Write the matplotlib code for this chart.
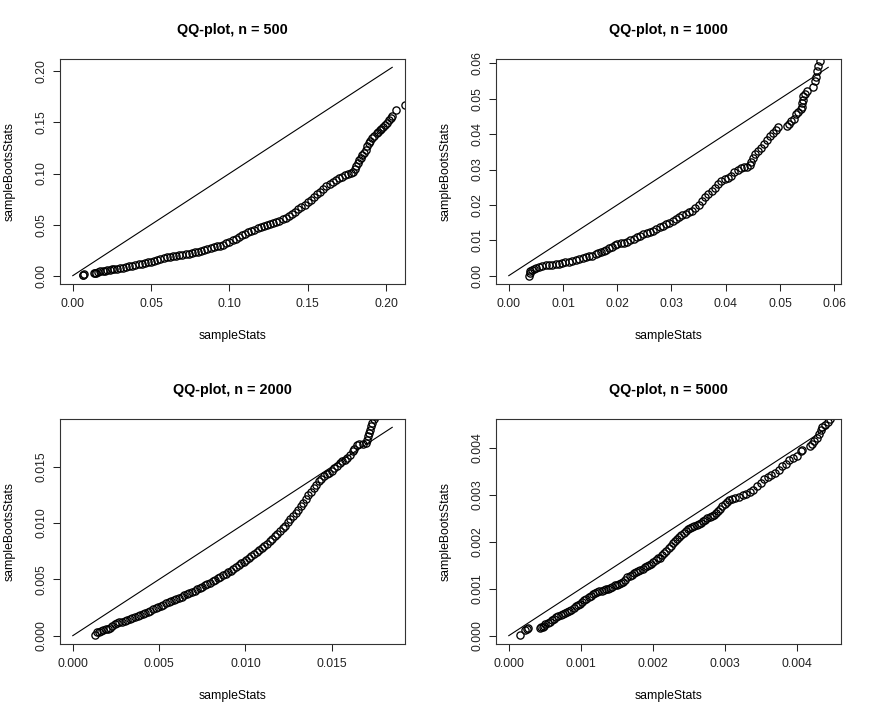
import matplotlib
matplotlib.use("Agg")
import matplotlib.pyplot as plt
from matplotlib.ticker import FormatStrFormatter

plt.rcParams['font.family'] = ['Liberation Sans', 'DejaVu Sans']

# QQ points (sampleStats, sampleBootsStats)
qq500 = [
    (0.0064, 0.0003), (0.0067, 0.0008), (0.0069, 0.0012), (0.0134, 0.0025), (0.0142, 0.0028),
    (0.0150, 0.0031), (0.0160, 0.0036), (0.0175, 0.0041), (0.0190, 0.0045), (0.0205, 0.0050),
    (0.0220, 0.0054), (0.0235, 0.0058), (0.0250, 0.0062), (0.0265, 0.0066), (0.0280, 0.0069),
    (0.030, 0.0074), (0.032, 0.0078), (0.034, 0.0083), (0.036, 0.0090), (0.038, 0.0097),
    (0.040, 0.0104), (0.042, 0.0110), (0.044, 0.0116), (0.046, 0.0122), (0.048, 0.0129),
    (0.050, 0.0137), (0.052, 0.0146), (0.054, 0.0155), (0.056, 0.0165), (0.058, 0.0174),
    (0.060, 0.0181), (0.062, 0.0187), (0.064, 0.0192), (0.066, 0.0196), (0.068, 0.0200),
    (0.070, 0.0205), (0.072, 0.0210), (0.074, 0.0215), (0.076, 0.0220), (0.078, 0.0227),
    (0.080, 0.0235), (0.082, 0.0245), (0.084, 0.0255), (0.086, 0.0264), (0.088, 0.0272),
    (0.090, 0.0280), (0.092, 0.0287), (0.094, 0.0295), (0.096, 0.0305), (0.098, 0.0318),
    (0.100, 0.0333), (0.102, 0.0348), (0.104, 0.0362), (0.106, 0.0378), (0.108, 0.0394),
    (0.110, 0.0410), (0.112, 0.0424), (0.114, 0.0438), (0.116, 0.0452), (0.118, 0.0464),
    (0.120, 0.0475), (0.122, 0.0484), (0.124, 0.0492), (0.126, 0.0502), (0.128, 0.0514),
    (0.130, 0.0526), (0.132, 0.0538), (0.134, 0.0551), (0.136, 0.0566), (0.138, 0.0584),
    (0.140, 0.0605), (0.142, 0.0626), (0.144, 0.0648), (0.146, 0.0672), (0.148, 0.0696),
    (0.150, 0.0720), (0.152, 0.0745), (0.154, 0.0772), (0.156, 0.0798), (0.158, 0.0824),
    (0.160, 0.0850), (0.162, 0.0874), (0.164, 0.0898), (0.166, 0.0920), (0.168, 0.0938),
    (0.170, 0.0955), (0.172, 0.0970), (0.174, 0.0985), (0.176, 0.0998), (0.1775, 0.1010),
    (0.179, 0.1020), (0.180, 0.1040), (0.181, 0.1070), (0.182, 0.1100), (0.183, 0.1130),
    (0.184, 0.1155), (0.185, 0.1180), (0.186, 0.1205), (0.187, 0.1235), (0.188, 0.1265),
    (0.189, 0.1295), (0.190, 0.1320), (0.191, 0.1345), (0.1925, 0.1370), (0.194, 0.1395),
    (0.195, 0.1410), (0.196, 0.1425), (0.197, 0.1440), (0.198, 0.1455), (0.1995, 0.1478),
    (0.2005, 0.1495), (0.2017, 0.1520), (0.203, 0.1545), (0.204, 0.1560), (0.2066, 0.1620),
    (0.212, 0.1670),
]

qq1000 = [
    (0.0038, 0.0000), (0.0039, 0.0008), (0.0040, 0.0012), (0.0043, 0.0016), (0.0046, 0.0020),
    (0.0050, 0.0023), (0.0055, 0.0025), (0.0062, 0.0027), (0.0068, 0.0029), (0.0074, 0.0030),
    (0.0080, 0.0031), (0.0087, 0.0032), (0.0093, 0.0034), (0.0098, 0.0036), (0.0104, 0.0039),
    (0.0111, 0.0040), (0.0117, 0.0042), (0.0124, 0.0044), (0.0130, 0.0046), (0.0136, 0.0050),
    (0.0142, 0.0053), (0.0148, 0.0055), (0.0154, 0.0057), (0.0160, 0.0060), (0.0165, 0.0063),
    (0.0170, 0.0066), (0.0175, 0.0070), (0.0180, 0.0073), (0.0185, 0.0077), (0.0190, 0.0081),
    (0.0195, 0.0086), (0.0200, 0.0089), (0.0206, 0.0091), (0.0212, 0.0093), (0.0218, 0.0096),
    (0.0224, 0.0100), (0.0230, 0.0104), (0.0236, 0.0108), (0.0242, 0.0113), (0.0248, 0.0118),
    (0.0254, 0.0121), (0.0260, 0.0124), (0.0266, 0.0127), (0.0272, 0.0132), (0.0278, 0.0137),
    (0.0284, 0.0141), (0.0290, 0.0145), (0.0296, 0.0150), (0.0302, 0.0155), (0.0308, 0.0160),
    (0.0314, 0.0166), (0.0320, 0.0171), (0.0326, 0.0175), (0.0332, 0.0179), (0.0338, 0.0183),
    (0.0344, 0.0190), (0.0350, 0.0200), (0.0356, 0.0212), (0.0362, 0.0222), (0.0368, 0.0230),
    (0.0374, 0.0238), (0.0380, 0.0248), (0.0386, 0.0259), (0.0392, 0.0267), (0.0398, 0.0272),
    (0.0404, 0.0277), (0.0410, 0.0282), (0.0416, 0.0292), (0.0422, 0.0299), (0.0428, 0.0304),
    (0.0434, 0.0307), (0.0440, 0.0308), (0.0444, 0.0312), (0.0447, 0.0322), (0.0450, 0.0334),
    (0.0454, 0.0343), (0.0459, 0.0352), (0.0465, 0.0362), (0.0471, 0.0373), (0.0477, 0.0384),
    (0.0482, 0.0394), (0.0487, 0.0403), (0.0492, 0.0412), (0.0497, 0.0420), (0.0513, 0.0423),
    (0.0517, 0.0430), (0.0521, 0.0437), (0.0525, 0.0444), (0.0529, 0.0458), (0.0534, 0.0464),
    (0.0538, 0.0470), (0.0540, 0.0478), (0.0541, 0.0488), (0.0542, 0.0498), (0.0543, 0.0507),
    (0.0546, 0.0515), (0.0550, 0.0522), (0.0561, 0.0532), (0.0565, 0.0549), (0.0566, 0.0562),
    (0.0569, 0.0580), (0.0571, 0.0593), (0.0574, 0.0607),
]

qq2000 = [
    (0.00128, 0.00003), (0.00140, 0.00030), (0.00150, 0.00037), (0.00162, 0.00042), (0.00176, 0.00050),
    (0.00190, 0.00055), (0.00205, 0.00060), (0.00218, 0.00068), (0.00230, 0.00085), (0.00242, 0.00100),
    (0.00255, 0.00110), (0.00270, 0.00118), (0.00285, 0.00125), (0.00300, 0.00132), (0.00315, 0.00140),
    (0.00330, 0.00150), (0.00345, 0.00160), (0.00360, 0.00170), (0.00375, 0.00178), (0.00390, 0.00186),
    (0.00405, 0.00194), (0.00420, 0.00203), (0.00435, 0.00212), (0.00450, 0.00222), (0.00465, 0.00233),
    (0.00480, 0.00243), (0.00495, 0.00254), (0.00510, 0.00264), (0.00525, 0.00275), (0.00540, 0.00286),
    (0.00555, 0.00296), (0.00570, 0.00306), (0.00585, 0.00317), (0.00600, 0.00327), (0.00615, 0.00337),
    (0.00630, 0.00347), (0.00645, 0.00357), (0.00660, 0.00368), (0.00675, 0.00379), (0.00690, 0.00390),
    (0.00705, 0.00400), (0.00720, 0.00411), (0.00735, 0.00423), (0.00750, 0.00436), (0.00765, 0.00448),
    (0.00780, 0.00460), (0.00795, 0.00472), (0.00810, 0.00484), (0.00825, 0.00496), (0.00840, 0.00508),
    (0.00855, 0.00521), (0.00870, 0.00535), (0.00885, 0.00549), (0.00900, 0.00563), (0.00915, 0.00578),
    (0.00930, 0.00594), (0.00945, 0.00610), (0.00960, 0.00626), (0.00975, 0.00642), (0.00990, 0.00658),
    (0.01005, 0.00674), (0.01020, 0.00690), (0.01035, 0.00706), (0.01050, 0.00723), (0.01065, 0.00740),
    (0.01080, 0.00758), (0.01095, 0.00777), (0.01110, 0.00797), (0.01125, 0.00818), (0.01140, 0.00840),
    (0.01155, 0.00862), (0.01170, 0.00884), (0.01185, 0.00906), (0.01200, 0.00928), (0.01215, 0.00952),
    (0.01230, 0.00978), (0.01245, 0.01005), (0.01260, 0.01032), (0.01275, 0.01060), (0.01290, 0.01090),
    (0.01305, 0.01120), (0.01320, 0.01150), (0.01335, 0.01180), (0.01350, 0.01212), (0.01365, 0.01245),
    (0.01380, 0.01278), (0.01395, 0.01310), (0.01410, 0.01340), (0.01425, 0.01370), (0.01440, 0.01395),
    (0.01455, 0.01418), (0.01470, 0.01433), (0.01485, 0.01446), (0.01500, 0.01460), (0.01515, 0.01490),
    (0.01530, 0.01510), (0.01545, 0.01530), (0.01560, 0.01548), (0.01575, 0.01560), (0.01590, 0.01578),
    (0.01605, 0.01605), (0.01620, 0.01640), (0.01630, 0.01660), (0.01645, 0.01690), (0.01660, 0.01700),
    (0.01680, 0.01700), (0.01700, 0.01715), (0.01705, 0.01740), (0.01710, 0.01770), (0.01715, 0.01800),
    (0.01720, 0.01830), (0.01728, 0.01860), (0.01735, 0.01890), (0.01745, 0.01920), (0.01755, 0.01950),
]

qq5000 = [
    (0.000153, 0.000007), (0.000225, 0.000120), (0.000250, 0.000145), (0.000265, 0.000155),
    (0.000435, 0.000165), (0.000450, 0.000175), (0.000470, 0.000190), (0.000490, 0.000215),
    (0.000510, 0.000240), (0.000540, 0.000275), (0.000570, 0.000300), (0.000600, 0.000330),
    (0.000630, 0.000365), (0.000660, 0.000395), (0.000690, 0.000415), (0.000720, 0.000435),
    (0.000750, 0.000455), (0.000780, 0.000480), (0.000810, 0.000505), (0.000840, 0.000530),
    (0.000870, 0.000555), (0.000900, 0.000590), (0.000930, 0.000625), (0.000960, 0.000655),
    (0.000990, 0.000685), (0.001020, 0.000715), (0.001050, 0.000760), (0.001080, 0.000790),
    (0.001110, 0.000815), (0.001140, 0.000850), (0.001170, 0.000880), (0.001200, 0.000910),
    (0.001230, 0.000930), (0.001260, 0.000945), (0.001290, 0.000955), (0.001320, 0.000970),
    (0.001350, 0.000985), (0.001380, 0.001000), (0.001410, 0.001020), (0.001440, 0.001045),
    (0.001470, 0.001070), (0.001500, 0.001090), (0.001530, 0.001100), (0.001560, 0.001120),
    (0.001590, 0.001150), (0.001620, 0.001195), (0.001650, 0.001240), (0.001680, 0.001270),
    (0.001710, 0.001300), (0.001740, 0.001325), (0.001770, 0.001350), (0.001800, 0.001375),
    (0.001830, 0.001400), (0.001860, 0.001430), (0.001890, 0.001455), (0.001920, 0.001475),
    (0.001950, 0.001500), (0.001980, 0.001530), (0.002010, 0.001575), (0.002040, 0.001620),
    (0.002070, 0.001650), (0.002100, 0.001665), (0.002130, 0.001710), (0.002160, 0.001765),
    (0.002190, 0.001800), (0.002220, 0.001860), (0.002250, 0.001920), (0.002280, 0.001975),
    (0.002310, 0.002020), (0.002340, 0.002065), (0.002370, 0.002110), (0.002400, 0.002150),
    (0.002430, 0.002190), (0.002460, 0.002230), (0.002490, 0.002265), (0.002520, 0.002290),
    (0.002550, 0.002310), (0.002580, 0.002335), (0.002610, 0.002360), (0.002640, 0.002380),
    (0.002670, 0.002410), (0.002700, 0.002440), (0.002730, 0.002475), (0.002760, 0.002505),
    (0.002790, 0.002530), (0.002820, 0.002550), (0.002850, 0.002575), (0.002880, 0.002620),
    (0.002910, 0.002660), (0.002940, 0.002710), (0.002970, 0.002760), (0.003000, 0.002800),
    (0.003030, 0.002850), (0.003060, 0.002890), (0.003100, 0.002910), (0.003150, 0.002930),
    (0.003200, 0.002960), (0.003250, 0.002990), (0.003300, 0.003020), (0.003350, 0.003060),
    (0.003400, 0.003110), (0.003450, 0.003180), (0.003500, 0.003260), (0.003550, 0.003330),
    (0.003600, 0.003390), (0.003650, 0.003430), (0.003700, 0.003470), (0.003750, 0.003540),
    (0.003800, 0.003610), (0.003850, 0.003660), (0.003900, 0.003740), (0.003950, 0.003780),
    (0.004000, 0.003820), (0.004060, 0.003930), (0.004080, 0.003950), (0.004190, 0.004050),
    (0.004210, 0.004080), (0.004240, 0.004150), (0.004280, 0.004220), (0.004310, 0.004300),
    (0.004340, 0.004380), (0.004360, 0.004440), (0.004400, 0.004490), (0.004430, 0.004560),
    (0.004460, 0.004610),
]

sample_sizes = [500, 1000, 2000, 5000]
all_points = [qq500, qq1000, qq2000, qq5000]
# upper end of the reference (identity) line, same as the data range of each panel
line_max = [0.204, 0.0589, 0.0185, 0.00444]
tick_step = [0.05, 0.01, 0.005, 0.001]
tick_fmt = ['%.2f', '%.2f', '%.3f', '%.3f']

# axes boxes in pixels (left, top) on a 872 x 720 canvas
W, H = 872, 720
box_w, box_h = 345, 225
box_pos = [(60, 59), (496, 59), (60, 419), (496, 419)]

fig = plt.figure(figsize=(W / 100, H / 100), dpi=100)

for i in range(4):
    left, top = box_pos[i]
    ax = fig.add_axes([left / W, 1 - (top + box_h) / H, box_w / W, box_h / H])

    xs = [p[0] for p in all_points[i]]
    ys = [p[1] for p in all_points[i]]
    ax.plot(xs, ys, linestyle='none', marker='o', markersize=5.2,
            markerfacecolor='none', markeredgecolor='black', markeredgewidth=0.95)
    ax.plot([0, line_max[i]], [0, line_max[i]], color='black', linewidth=0.8)

    d = line_max[i]
    ax.set_xlim(-0.04 * d, 1.04 * d)
    ax.set_ylim(-0.04 * d, 1.04 * d)

    step = tick_step[i]
    ticks = []
    t = 0.0
    while t <= 1.04 * d + 1e-12:
        ticks.append(round(t, 6))
        t += step
    ax.set_xticks(ticks)
    ax.set_yticks(ticks)
    ax.xaxis.set_major_formatter(FormatStrFormatter(tick_fmt[i]))
    ax.yaxis.set_major_formatter(FormatStrFormatter(tick_fmt[i]))

    ax.tick_params(direction='out', length=5, width=0.75, labelsize=8.8, colors='#222222', pad=5)
    ax.tick_params(axis='y', labelrotation=90, pad=4)
    for lab in ax.get_yticklabels():
        lab.set_va('center')
    for sp in ax.spines.values():
        sp.set_linewidth(0.8)
        sp.set_color('#333333')

    ax.text(0.5, 1 + 29 / box_h, 'QQ-plot, n = %d' % sample_sizes[i], transform=ax.transAxes,
            ha='center', va='center', fontsize=10.4, fontweight='bold')
    ax.text(0.5, -52 / box_h, 'sampleStats', transform=ax.transAxes,
            ha='center', va='center', fontsize=8.8)
    ax.text(-50 / box_w, 0.5, 'sampleBootsStats', transform=ax.transAxes,
            ha='center', va='center', fontsize=8.8, rotation=90)

fig.savefig('out.png', dpi=100)
